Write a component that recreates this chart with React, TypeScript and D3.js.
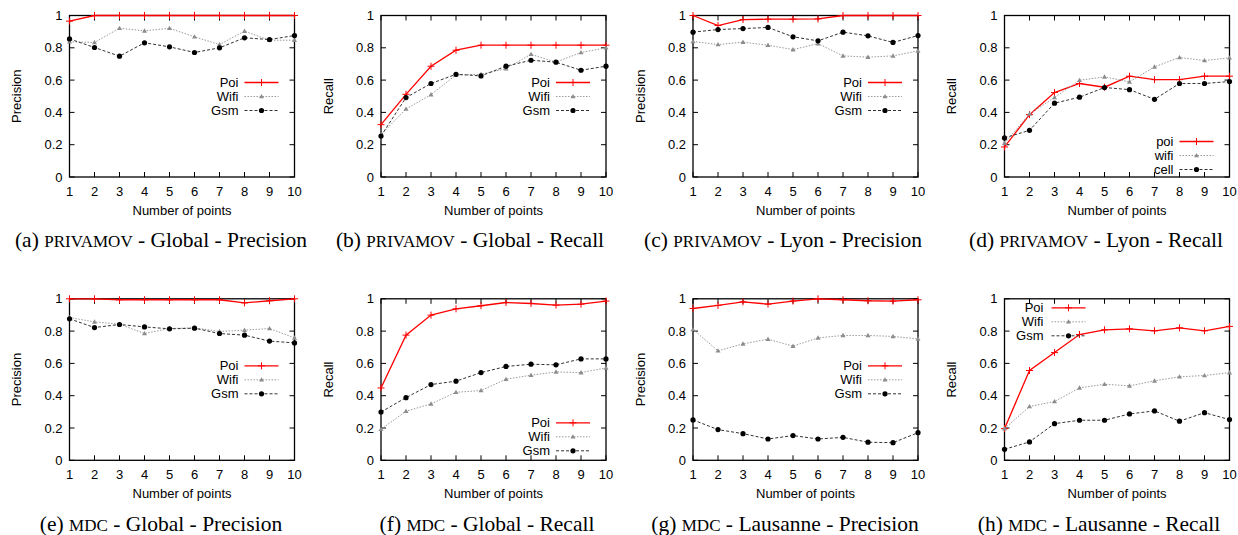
import React from 'react';
import * as d3 from 'd3';

const xValues = [1, 2, 3, 4, 5, 6, 7, 8, 9, 10];
const yTickValues = [0, 0.2, 0.4, 0.6, 0.8, 1];

// (a) PRIVAMOV - Global - Precision
const aPoi = [0.965, 1, 1, 1, 1, 1, 1, 1, 1, 1];
const aWifi = [0.837, 0.833, 0.921, 0.905, 0.921, 0.868, 0.82, 0.903, 0.847, 0.847];
const aGsm = [0.855, 0.802, 0.748, 0.831, 0.806, 0.771, 0.8, 0.862, 0.851, 0.876];
// (b) PRIVAMOV - Global - Recall
const bPoi = [0.324, 0.512, 0.686, 0.785, 0.816, 0.816, 0.816, 0.816, 0.816, 0.816];
const bWifi = [0.262, 0.421, 0.51, 0.632, 0.636, 0.671, 0.76, 0.711, 0.771, 0.8];
const bGsm = [0.254, 0.492, 0.579, 0.636, 0.626, 0.686, 0.723, 0.711, 0.661, 0.686];
// (c) PRIVAMOV - Lyon - Precision
const cPoi = [1, 0.938, 0.975, 0.977, 0.977, 0.979, 1, 1, 1, 1];
const cWifi = [0.839, 0.82, 0.835, 0.816, 0.789, 0.826, 0.75, 0.742, 0.75, 0.781];
const cGsm = [0.897, 0.913, 0.919, 0.926, 0.868, 0.843, 0.897, 0.874, 0.833, 0.876];
// (d) PRIVAMOV - Lyon - Recall
const dPoi = [0.186, 0.386, 0.523, 0.579, 0.556, 0.624, 0.603, 0.603, 0.624, 0.624];
const dWifi = [0.21, 0.39, 0.492, 0.599, 0.62, 0.589, 0.682, 0.74, 0.721, 0.738];
const dCell = [0.242, 0.289, 0.457, 0.494, 0.554, 0.541, 0.481, 0.579, 0.579, 0.591];
// (e) MDC - Global - Precision
const ePoi = [1, 1, 0.994, 0.994, 0.994, 0.994, 0.994, 0.975, 0.988, 1];
const eWifi = [0.884, 0.857, 0.843, 0.785, 0.816, 0.82, 0.798, 0.806, 0.816, 0.758];
const eGsm = [0.876, 0.822, 0.841, 0.826, 0.814, 0.818, 0.785, 0.775, 0.738, 0.727];
// (f) MDC - Global - Recall
const fPoi = [0.448, 0.775, 0.899, 0.938, 0.957, 0.977, 0.971, 0.961, 0.967, 0.986];
const fWifi = [0.192, 0.304, 0.349, 0.421, 0.432, 0.502, 0.527, 0.547, 0.543, 0.572];
const fGsm = [0.299, 0.388, 0.469, 0.49, 0.543, 0.581, 0.595, 0.591, 0.628, 0.628];
// (g) MDC - Lausanne - Precision
const gPoi = [0.94, 0.959, 0.981, 0.967, 0.986, 1, 0.994, 0.988, 0.986, 0.994];
const gWifi = [0.81, 0.678, 0.721, 0.75, 0.707, 0.758, 0.773, 0.773, 0.767, 0.752];
const gGsm = [0.25, 0.19, 0.165, 0.132, 0.153, 0.132, 0.142, 0.112, 0.109, 0.171];
// (h) MDC - Lausanne - Recall
const hPoi = [0.196, 0.556, 0.667, 0.779, 0.808, 0.814, 0.802, 0.82, 0.802, 0.829];
const hWifi = [0.196, 0.333, 0.364, 0.448, 0.471, 0.461, 0.492, 0.517, 0.525, 0.543];
const hGsm = [0.068, 0.114, 0.227, 0.248, 0.248, 0.287, 0.306, 0.242, 0.295, 0.252];

const defaultLabels = ['Poi', 'Wifi', 'Gsm'];
const lyonRecallLabels = ['poi', 'wifi', 'cell'];

type Panel = {
  row: number;
  col: number;
  ylabel: string;
  series: number[][];
  labels: string[];
  legend: 'right' | 'left';
  legendTop: number;
  caption: [string, string, string];
  captionCenter: number;
};

const panels: Panel[] = [
  { row: 0, col: 0, ylabel: 'Precision', series: [aPoi, aWifi, aGsm], labels: defaultLabels, legend: 'right', legendTop: 67, caption: ['(a) ', 'PRIVAMOV', ' - Global - Precision'], captionCenter: 161 },
  { row: 0, col: 1, ylabel: 'Recall', series: [bPoi, bWifi, bGsm], labels: defaultLabels, legend: 'right', legendTop: 67, caption: ['(b) ', 'PRIVAMOV', ' - Global - Recall'], captionCenter: 470 },
  { row: 0, col: 2, ylabel: 'Precision', series: [cPoi, cWifi, cGsm], labels: defaultLabels, legend: 'right', legendTop: 67, caption: ['(c) ', 'PRIVAMOV', ' - Lyon - Precision'], captionCenter: 783 },
  { row: 0, col: 3, ylabel: 'Recall', series: [dPoi, dWifi, dCell], labels: lyonRecallLabels, legend: 'right', legendTop: 126, caption: ['(d) ', 'PRIVAMOV', ' - Lyon - Recall'], captionCenter: 1096 },
  { row: 1, col: 0, ylabel: 'Precision', series: [ePoi, eWifi, eGsm], labels: defaultLabels, legend: 'right', legendTop: 67, caption: ['(e) ', 'MDC', ' - Global - Precision'], captionCenter: 161 },
  { row: 1, col: 1, ylabel: 'Recall', series: [fPoi, fWifi, fGsm], labels: defaultLabels, legend: 'right', legendTop: 124, caption: ['(f) ', 'MDC', ' - Global - Recall'], captionCenter: 487 },
  { row: 1, col: 2, ylabel: 'Precision', series: [gPoi, gWifi, gGsm], labels: defaultLabels, legend: 'right', legendTop: 67, caption: ['(g) ', 'MDC', ' - Lausanne - Precision'], captionCenter: 785 },
  { row: 1, col: 3, ylabel: 'Recall', series: [hPoi, hWifi, hGsm], labels: defaultLabels, legend: 'left', legendTop: 9, caption: ['(h) ', 'MDC', ' - Lausanne - Recall'], captionCenter: 1099 },
];

const colLeft = [69.5, 381, 693, 1004.5];
const rowTop = [15.5, 298.8];
const W = 225;
const H = 161.5;
const sans = '"Liberation Sans", Arial, Helvetica, sans-serif';
const serif = '"Liberation Serif", "Times New Roman", serif';

const seriesStyle = [
  { stroke: '#ff0000', width: 1.3, dash: 'none' },
  { stroke: '#9a9a9a', width: 1, dash: '1.5,1.5' },
  { stroke: '#333333', width: 1, dash: '3,2' },
];

function Marker({ kind, x, y }: { kind: number; x: number; y: number }) {
  if (kind === 0) {
    return (
      <g stroke="#ff0000" strokeWidth={1}>
        <line x1={x - 3.5} x2={x + 3.5} y1={y} y2={y} />
        <line x1={x} x2={x} y1={y - 3.5} y2={y + 3.5} />
      </g>
    );
  }
  if (kind === 1) {
    return <path d={`M${x},${y - 2.6}L${x + 2.5},${y + 1.8}L${x - 2.5},${y + 1.8}Z`} fill="#8c8c8c" />;
  }
  return <circle cx={x} cy={y} r={2.6} fill="#000" />;
}

function PanelView({ p }: { p: Panel }) {
  const left = colLeft[p.col];
  const top = rowTop[p.row];
  const right = left + W;
  const bottom = top + H;
  const x = d3.scaleLinear().domain([1, 10]).range([left, right]);
  const y = d3.scaleLinear().domain([0, 1]).range([bottom, top]);
  const line = d3
    .line<number>()
    .x((_, i) => x(xValues[i]))
    .y((d) => y(d));
  const captionBaseline = p.row === 0 ? 247 : 530.5;

  const legendRows = p.labels.map((lab, i) => {
    const cy = top + p.legendTop + i * 14;
    const textRight = p.legend === 'right' ? right - 56 : left + 39;
    const l0 = p.legend === 'right' ? right - 50 : left + 47;
    const l1 = p.legend === 'right' ? right - 16 : left + 81;
    const st = seriesStyle[i];
    return (
      <g key={lab}>
        <text x={textRight} y={cy} dy="0.36em" textAnchor="end" fontFamily={sans} fontSize={13} fill="#000">
          {lab}
        </text>
        <line x1={l0} x2={l1} y1={cy} y2={cy} stroke={st.stroke} strokeWidth={st.width} strokeDasharray={st.dash} />
        <Marker kind={i} x={(l0 + l1) / 2} y={cy} />
      </g>
    );
  });

  return (
    <g>
      <rect x={left} y={top} width={W} height={H} fill="none" stroke="#000" strokeWidth={1.3} />
      {yTickValues.map((t) => (
        <g key={'y' + t}>
          <line x1={left} x2={left + 5} y1={y(t)} y2={y(t)} stroke="#000" strokeWidth={1} />
          <line x1={right - 5} x2={right} y1={y(t)} y2={y(t)} stroke="#000" strokeWidth={1} />
          <text x={left - 7} y={y(t)} dy="0.36em" textAnchor="end" fontFamily={sans} fontSize={13} fill="#000">
            {String(t)}
          </text>
        </g>
      ))}
      {xValues.map((t) => (
        <g key={'x' + t}>
          <line x1={x(t)} x2={x(t)} y1={bottom} y2={bottom - 5} stroke="#000" strokeWidth={1} />
          <line x1={x(t)} x2={x(t)} y1={top} y2={top + 5} stroke="#000" strokeWidth={1} />
          <text x={x(t)} y={bottom + 18.5} textAnchor="middle" fontFamily={sans} fontSize={13} fill="#000">
            {String(t)}
          </text>
        </g>
      ))}
      <text x={(left + right) / 2} y={bottom + 38} textAnchor="middle" fontFamily={sans} fontSize={13} fill="#000">
        Number of points
      </text>
      <text
        transform={`translate(${left - 53},${(top + bottom) / 2}) rotate(-90)`}
        dy="0.36em"
        textAnchor="middle"
        fontFamily={sans}
        fontSize={13}
        fill="#000"
      >
        {p.ylabel}
      </text>
      {p.series.map((s, i) => {
        const st = seriesStyle[i];
        return (
          <g key={'s' + i}>
            <path d={line(s) || ''} fill="none" stroke={st.stroke} strokeWidth={st.width} strokeDasharray={st.dash} />
            {s.map((v, j) => (
              <Marker key={j} kind={i} x={x(xValues[j])} y={y(v)} />
            ))}
          </g>
        );
      })}
      {legendRows}
      <text x={p.captionCenter} y={captionBaseline} textAnchor="middle" fontFamily={serif} fontSize={21.5} fill="#000">
        {p.caption[0]}
        <tspan fontSize={17}>{p.caption[1]}</tspan>
        {p.caption[2]}
      </text>
    </g>
  );
}

export default function App() {
  return (
    <svg
      width={1238}
      height={535}
      viewBox="0 0 1238 535"
      style={{ position: 'absolute', left: 0, top: 0, background: '#fff' }}
    >
      <rect x={0} y={0} width={1238} height={535} fill="#fff" />
      {panels.map((p, i) => (
        <PanelView key={i} p={p} />
      ))}
    </svg>
  );
}
